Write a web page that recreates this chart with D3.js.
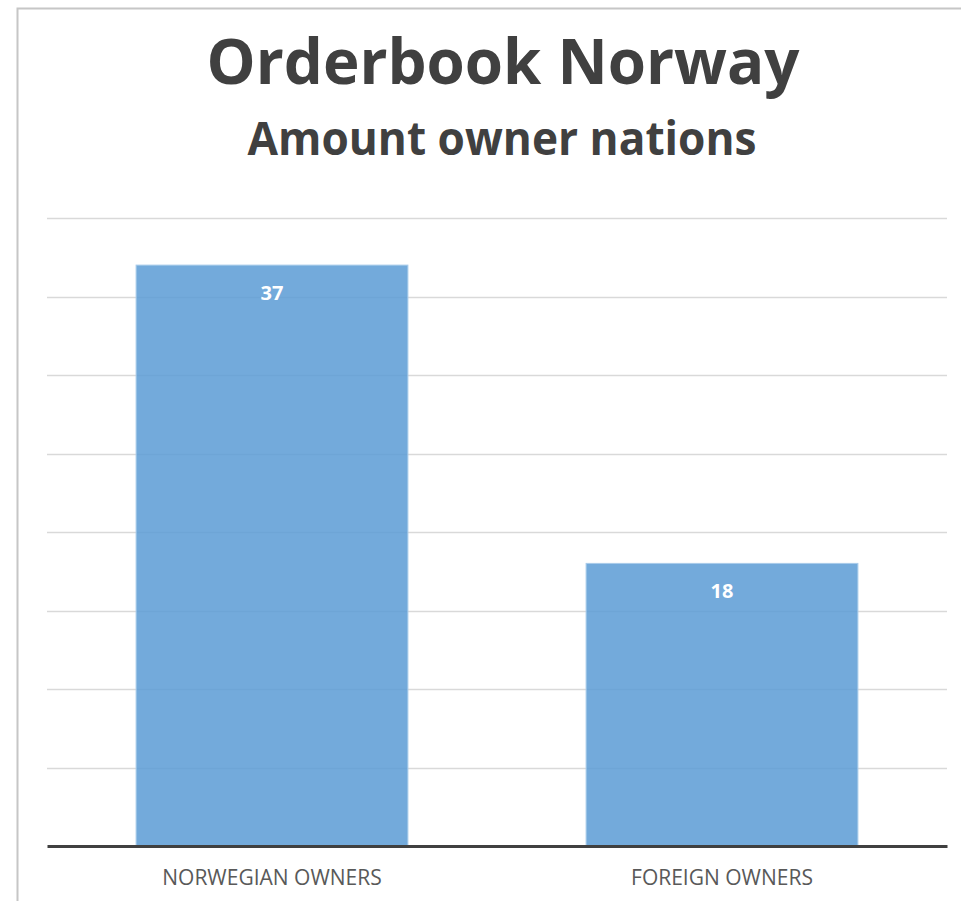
<!DOCTYPE html>
<html>
<head>
<meta charset="utf-8">
<script src="https://cdn.jsdelivr.net/npm/d3@7"></script>
<style>
  body { margin: 0; background: #fff; }
  svg { display: block; }
</style>
</head>
<body>
<div id="chart"></div>
<script>
// Chart data
const categories = ["NORWEGIAN OWNERS", "FOREIGN OWNERS"];
const values = [37, 18];
const gridTicks = [5, 10, 15, 20, 25, 30, 35, 40];
const titleText = "Orderbook Norway";
const subtitleText = "Amount owner nations";

const width = 961;
const height = 901;

const margin = {
    left: 47,
    right: 14,
    top: 218,
    bottom: 55
};

const svg = d3.select("#chart")
    .append("svg")
    .attr("width", width)
    .attr("height", height);

// Chart frame (only top and left edges are visible in the crop)
svg.append("rect")
    .attr("x", 17.5)
    .attr("y", 8.5)
    .attr("width", 1100)
    .attr("height", 1100)
    .attr("fill", "none")
    .attr("stroke", "#c6c6c6")
    .attr("stroke-width", 2);

const x_scale = d3.scaleBand()
    .domain(categories)
    .range([margin.left, width - margin.right])
    .paddingInner(0.396)
    .paddingOuter(0.198);

const y_scale = d3.scaleLinear()
    .domain([0, 40])
    .range([height - margin.bottom, margin.top]);

// Gridlines
svg.append("g")
    .selectAll("line")
    .data(gridTicks)
    .join("line")
        .attr("x1", margin.left)
        .attr("x2", width - margin.right)
        .attr("y1", (d) => Math.round(y_scale(d)) + 0.5)
        .attr("y2", (d) => Math.round(y_scale(d)) + 0.5)
        .attr("stroke", "#d9d9d9")
        .attr("stroke-width", 1.5);

// Bars
svg.selectAll("rect.bar")
    .data(categories)
    .join("rect")
        .attr("class", "bar")
        .attr("x", (d) => x_scale(d))
        .attr("y", (d, i) => y_scale(values[i]))
        .attr("width", x_scale.bandwidth())
        .attr("height", (d, i) => y_scale(0) - y_scale(values[i]))
        .attr("fill", "#5b9bd5")
        .attr("fill-opacity", 0.85)
        .attr("stroke", "#a9cbea")
        .attr("stroke-width", 1);

// Value labels
svg.selectAll("text.value")
    .data(categories)
    .join("text")
        .attr("class", "value")
        .attr("x", (d) => x_scale(d) + x_scale.bandwidth() / 2)
        .attr("y", (d, i) => y_scale(values[i]) + 35)
        .attr("text-anchor", "middle")
        .attr("fill", "#ffffff")
        .attr("font-family", "Open Sans")
        .attr("font-weight", "bold")
        .attr("font-size", 20)
        .text((d, i) => values[i]);

// Baseline axis
svg.append("g")
    .attr("transform", `translate(0, ${y_scale(0)})`)
    .call(d3.axisBottom(x_scale).tickSize(0).tickPadding(32))
    .call((g) => g.select(".domain")
        .attr("stroke", "#404040")
        .attr("stroke-width", 3))
    .call((g) => g.selectAll(".tick text")
        .attr("fill", "#595959")
        .attr("font-family", "Open Sans")
        .attr("font-size", 21)
        .attr("dy", "0.32em"));

// Titles
svg.append("text")
    .attr("x", 503)
    .attr("y", 84)
    .attr("text-anchor", "middle")
    .attr("fill", "#404040")
    .attr("font-family", "Open Sans")
    .attr("font-weight", "bold")
    .attr("font-size", 63)
    .attr("textLength", 593)
    .attr("lengthAdjust", "spacingAndGlyphs")
    .text(titleText);

svg.append("text")
    .attr("x", 502)
    .attr("y", 155)
    .attr("text-anchor", "middle")
    .attr("fill", "#404040")
    .attr("font-family", "Open Sans")
    .attr("font-weight", "bold")
    .attr("font-size", 47)
    .attr("textLength", 509)
    .attr("lengthAdjust", "spacingAndGlyphs")
    .text(subtitleText);
</script>
</body>
</html>
